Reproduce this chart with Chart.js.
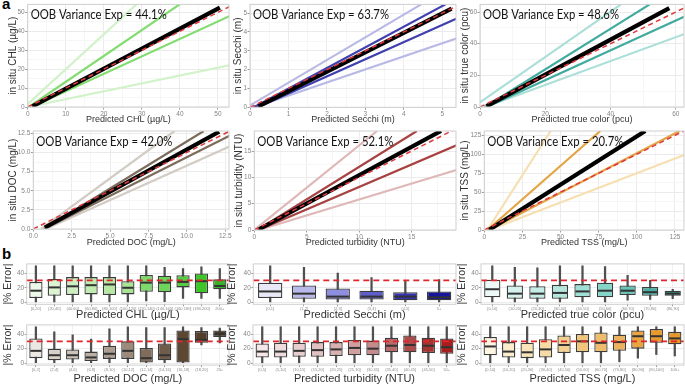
<!DOCTYPE html>
<html>
<head>
<meta charset="utf-8">
<script src="https://cdn.jsdelivr.net/npm/chart.js@4.4.1/dist/chart.umd.min.js"></script>
<style>
  body { margin: 0; width: 685px; height: 384px; position: relative; overflow: hidden; background: #fff; }
  canvas { position: absolute; left: 0; top: 0; }
  .tag { position: absolute; font: bold 15px 'Liberation Sans', Arial, sans-serif; line-height: 15px; color: #000; }
</style>
</head>
<body>
<div class="tag" style="left:2px;top:-4px">a</div>
<div class="tag" style="left:2px;top:246px">b</div>
<script>
// ---- panel a: fitted lines, each [x0, y0, x1, y1] in data units ----
// order of the four coloured fits: pale upper, strong upper, strong lower, pale lower
const chlFits = [[0, 1.5, 29, 55], [0.3, 0, 40.5, 55], [1, 0, 53, 48], [0, 0, 53, 22]];
const chlMain = [1.2, 0.3, 50.5, 52.5];
const secchiFits = [[0, 0.1, 4.45, 5.46], [0.1, 0, 5.08, 5.46], [0.2, 0, 5.36, 4.7], [0.1, 0, 5.36, 3.65]];
const secchiMain = [0.22, 0.05, 5.24, 5.24];
const colorFits = [[0, 3, 43.2, 64.8], [1.5, 0, 52, 64.8], [2, 0, 62.5, 57], [1.5, 0, 62.5, 46]];
const colorMain = [2, 0.5, 58, 62.5];
const docFits = [[0.5, 0, 9.2, 12.8], [0.7, 0, 11.1, 12.8], [0.8, 0.1, 12.8, 12.2], [0.8, 0, 12.8, 10.8]];
const docMain = [0.75, 0.2, 12.1, 12.7];
const turbFits = [[0, 0, 11.7, 18.8], [0.3, 0, 15.5, 18.8], [0.4, 0, 19.3, 16.1], [0.4, 0, 19.3, 11.4]];
const turbMain = [0.4, 0.1, 17.8, 18.8];
const tssFits = [[2, 0, 43.5, 130.7], [2, 0, 76, 130.7], [3, 0, 128, 130.7], [3, 0, 131, 99]];
const tssMain = [3, 0, 105.5, 130.7];
const oobValues = ["44.1%", "63.7%", "48.6%", "42.0%", "52.1%", "20.7%"];

// ---- panel b: |% error| boxes, each [lower whisker, q1, median, q3, upper whisker] ----
const chlBins = ["[0,20]", "(20,40]", "(40,60]", "(60,80]", "(80,100]", "(100,120]", "(120,140]", "(140,160]", "(160,180]", "(180,200]", "200+"];
const chlBox = [[0, 6, 16, 28, 50], [0, 9, 20.5, 32, 50], [0, 10, 22, 34.5, 50], [0, 11, 23.5, 34.5, 50], [0, 10, 24.5, 34.5, 50], [0, 11, 20, 29, 50],
  [2, 14.5, 27, 37.5, 50], [1, 14, 27, 36.5, 48], [5.5, 20.5, 28, 37, 46], [5.5, 12.5, 29, 39.5, 48.5], [5.5, 18, 22.5, 31.5, 46]];
const secchiBins = ["[0,1]", "(1,2]", "(2,3]", "(3,4]", "(4,5]", "5+"];
const secchiBox = [[0, 6, 15, 27, 50], [0, 5, 12, 23, 48], [0, 4, 8, 19, 40], [0, 4, 8, 16, 34], [0, 3, 8, 14, 30], [0, 3, 7, 15, 31]];
const colorBins = ["[0,10]", "(10,20]", "(20,30]", "(30,40]", "(40,50]", "(50,60]", "(60,70]", "(70,80]", "(80,90]"];
const colorBox = [[0, 7, 18, 31, 50], [0, 5, 12, 23, 48], [0, 5, 12, 22, 47], [0, 5, 13, 24, 50], [0, 7, 15, 25, 50], [0, 7, 16, 27, 49],
  [3, 10, 16, 23, 37], [4, 9, 14, 21, 30], [5, 9, 12, 16, 18]];
const docBins = ["[0,2]", "(2,4]", "(4,6]", "(6,8]", "(8,10]", "(10,12]", "(12,14]", "(14,16]", "(16,18]", "(18,20]", "20+"];
const docBox = [[0, 7, 17, 34, 50], [0, 4, 11, 20, 43], [0, 5, 11, 19, 39], [0, 3, 8, 16, 33], [0, 6, 13, 24, 47], [0, 6, 17, 30, 50],
  [0, 1, 7, 21, 49], [0, 4, 11, 27, 49], [0, 1, 33, 45, 50], [25, 28, 32, 44, 49], [28, 36, 40, 45, 48]];
const turbBins = ["[0,5]", "(5,10]", "(10,15]", "(15,20]", "(20,25]", "(25,30]", "(30,35]", "(35,40]", "(40,45]", "(45,50]", "50+"];
const turbBox = [[0, 8, 16, 27, 50], [0, 8, 16, 28, 50], [0, 9, 17, 28, 50], [0, 9, 18, 29, 50], [0, 10, 19, 29, 50], [0, 11, 21, 32, 50],
  [0, 11, 20, 31, 50], [0, 15, 24, 35, 50], [0, 15, 25, 38, 50], [0, 14, 24, 35, 50], [0, 13, 22, 34, 50]];
const tssBins = ["[0,10]", "(10,20]", "(20,30]", "(30,40]", "(40,50]", "(50,60]", "(60,70]", "(70,80]", "(80,90]", "(90,100]", "100+"];
const tssBox = [[0, 11, 23, 36, 50], [0, 8, 16, 29, 50], [0, 7, 15, 28, 50], [0, 8, 19, 33, 50], [0, 14, 25, 38, 50], [0, 15, 30, 40, 50],
  [0, 15, 28, 42, 50], [2, 17, 29, 39, 50], [7, 20, 37, 45, 50], [12, 28, 37, 47, 50], [10, 26, 34, 43, 50]];
const errorLimit = 30;

// ---- colours ----
const chlLineCol = ['#d2f2ca', '#83dc70', '#83dc70', '#d2f2ca'];
const secchiLineCol = ['#b9b9e6', '#3f3fae', '#3f3fae', '#b9b9e6'];
const colorLineCol = ['#acdfd8', '#41ab9d', '#41ab9d', '#acdfd8'];
const docLineCol = ['#d2ccc5', '#7c6c5c', '#7c6c5c', '#d2ccc5'];
const turbLineCol = ['#dfb8b8', '#a84242', '#a84242', '#dfb8b8'];
const tssLineCol = ['#f6e0b3', '#e3a547', '#e3a547', '#f6e0b3'];

const chlFill = ['#ecf9e8', '#dcf4d2', '#cdeec0', '#c2ebb2', '#b6e8a4', '#a9e496', '#7fd86c', '#6ed35b', '#55cc42', '#3fc52c', '#36b52a'];
const secchiFill = ['#e8e8f8', '#b9b9ec', '#8e8ee0', '#5f5fcc', '#3434b4', '#14149c'];
const colorFill = ['#ecf9f7', '#d6f2ee', '#c6ece6', '#b4e6de', '#a0dfd5', '#86d5c9', '#66c4b6', '#49ae9f', '#2f8f82'];
const docFill = ['#ebe8e4', '#d8d1ca', '#cbc2b9', '#bbb0a5', '#ab9e90', '#9c8b7b', '#7f6c5a', '#6f5c4a', '#5c4832', '#533f2b', '#4b3925'];
const turbFill = ['#f6e8e8', '#efdcdc', '#e8cece', '#e0c0c0', '#d9b1b1', '#d09f9f', '#c58b8b', '#b86a6a', '#ad4a4a', '#a73232', '#a81e1e'];
const tssFill = ['#fdf5e2', '#fbedcb', '#f9e5b8', '#f6dba4', '#f3d090', '#f0c57c', '#edbc6c', '#ecb35e', '#eaa540', '#e99a2c', '#e8982a'];

const FONT = "'Liberation Sans', Arial, sans-serif";
Chart.defaults.font.family = FONT;
Chart.defaults.animation = false;
Chart.defaults.events = [];
Chart.defaults.plugins.legend.display = false;
Chart.defaults.plugins.tooltip.enabled = false;

function isMajor(v, step) {
  const r = v / step;
  return Math.abs(r - Math.round(r)) < 1e-6;
}

function newCtx() {
  const c = document.createElement('canvas');
  c.width = 685;
  c.height = 384;
  document.body.appendChild(c);
  return c.getContext('2d');
}

// light panel border
const framePlugin = {
  id: 'frame',
  afterDraw(chart) {
    const { ctx, chartArea: a } = chart;
    ctx.save();
    ctx.strokeStyle = '#cfcfcf';
    ctx.lineWidth = 1;
    ctx.strokeRect(a.left, a.top, a.right - a.left, a.bottom - a.top);
    ctx.restore();
  }
};

function fitPanel(p) {
  const titleSize = 9, lh = titleSize * 1.2;
  const ySize = 10, ylh = ySize * 1.2;
  const pts = f => [{ x: f[0], y: f[1] }, { x: f[2], y: f[3] }];
  const m = Math.max(p.xMax, p.yMax) * 1.1;
  const datasets = [
    { data: [{ x: 0, y: 0 }, { x: m, y: m }], borderColor: '#e0383c', borderWidth: 1.5, borderDash: [5, 3.5], order: 0 },
    { data: pts(p.main), borderColor: '#000', borderWidth: 4.2, order: 1 }
  ];
  p.fits.forEach((f, i) => {
    datasets.push({ data: pts(f), borderColor: p.colors[i], borderWidth: 2.2, order: (i === 1 || i === 2) ? 2 : 3 });
  });
  datasets.forEach(d => { d.showLine = true; d.pointRadius = 0; });

  const axisCommon = (major, dec) => ({
    type: 'linear',
    min: 0,
    border: { display: false },
    ticks: {
      stepSize: major / 2, includeBounds: false, autoSkip: false, maxRotation: 0,
      color: '#858585', font: { size: 6.5 }, padding: 0.5,
      callback: v => isMajor(v, major) ? v.toFixed(dec) : ''
    },
    grid: {
      color: c => isMajor(c.tick.value, major) ? '#ebebeb' : '#f6f6f6',
      tickColor: c => isMajor(c.tick.value, major) ? '#9a9a9a' : 'rgba(0,0,0,0)',
      tickLength: 2.5
    }
  });
  const xs = axisCommon(p.xMajor, p.dec);
  xs.max = p.xMax;
  xs.title = { display: true, text: p.xTitle, color: '#333', font: { size: titleSize }, padding: 0 };
  const xh = p.titleY + lh / 2 - p.bottom;
  xs.afterFit = s => { s.height = xh; };
  const ys = axisCommon(p.yMajor, p.dec);
  ys.max = p.yMax;
  ys.title = { display: true, text: p.yTitle, color: '#333', font: { size: ySize }, padding: { top: p.yTitleX - ylh / 2, bottom: 0 } };
  ys.afterFit = s => { s.width = p.left; };

  const oobPlugin = {
    id: 'oob',
    afterDatasetsDraw(chart) {
      const { ctx, chartArea: a } = chart;
      ctx.save();
      ctx.font = "13px Lato, 'Open Sans', sans-serif";
      ctx.fillStyle = '#111';
      ctx.textBaseline = 'alphabetic';
      ctx.fillText('OOB Variance Exp = ' + p.oob, a.left + 3, a.top + 15, 136);
      ctx.restore();
    }
  };

  new Chart(newCtx(), {
    type: 'scatter',
    data: { datasets },
    options: {
      responsive: false,
      layout: { padding: { left: 0, top: p.top, right: 685 - p.right, bottom: 384 - p.bottom - xh } },
      scales: { x: xs, y: ys }
    },
    plugins: [framePlugin, oobPlugin]
  });
}

function boxPanel(p) {
  const titleSize = 11, lh = titleSize * 1.2;
  const ySize = 10.5;
  const xh = p.titleY + lh / 2 - p.bottom;
  const boxPlugin = {
    id: 'boxMarks',
    afterDatasetsDraw(chart) {
      const { ctx, chartArea: a } = chart;
      const yS = chart.scales.y;
      const meta = chart.getDatasetMeta(1);
      ctx.save();
      ctx.strokeStyle = '#333';
      ctx.lineWidth = 2;
      meta.data.forEach((bar, i) => {
        const y = yS.getPixelForValue(p.box[i][2]);
        ctx.beginPath();
        ctx.moveTo(bar.x - bar.width / 2 + 1, y);
        ctx.lineTo(bar.x + bar.width / 2 - 1, y);
        ctx.stroke();
      });
      const yl = yS.getPixelForValue(errorLimit);
      ctx.strokeStyle = '#e0262b';
      ctx.lineWidth = 1.8;
      ctx.setLineDash([6, 4]);
      ctx.beginPath();
      ctx.moveTo(a.left, yl);
      ctx.lineTo(a.right, yl);
      ctx.stroke();
      ctx.restore();
    }
  };
  new Chart(newCtx(), {
    type: 'bar',
    data: {
      labels: p.bins,
      datasets: [
        { data: p.box.map(b => [b[0], b[4]]), backgroundColor: '#505050', barThickness: 1.6, grouped: false, order: 2 },
        { data: p.box.map(b => [b[1], b[3]]), backgroundColor: p.fill, borderColor: '#3c3c3c', borderWidth: 1.3,
          borderSkipped: false, barPercentage: 0.72, categoryPercentage: 1, grouped: false, order: 1 }
      ]
    },
    options: {
      responsive: false,
      layout: { padding: { left: 0, top: p.top, right: 685 - p.right, bottom: 384 - p.bottom - xh } },
      scales: {
        x: {
          border: { display: false },
          grid: { offset: false, color: '#f1f1f1', tickColor: '#9a9a9a', tickLength: 2 },
          ticks: { autoSkip: false, maxRotation: 0, minRotation: 0, color: '#8a8a8a', font: { size: 4 }, padding: 0.5 },
          title: { display: true, text: p.xTitle, color: '#333', font: { size: titleSize }, padding: 0 },
          afterFit: s => { s.height = xh; }
        },
        y: {
          min: -2.5, max: 52.5,
          border: { display: false },
          grid: { color: '#ebebeb', tickColor: '#9a9a9a', tickLength: 2 },
          ticks: { stepSize: 10, includeBounds: false, color: '#858585', font: { size: 6.5 }, padding: 0.5 },
          title: { display: true, text: '|% Error|', color: '#333', font: { size: ySize }, padding: { top: p.yTitleX - ySize * 0.6, bottom: 0 } },
          afterFit: s => { s.width = p.left; }
        }
      }
    },
    plugins: [framePlugin, boxPlugin]
  });
}

// ---- panel a ----
fitPanel({ left: 27.7, right: 229, top: 4, bottom: 107, titleY: 120, yTitleX: 13.5, xMax: 52.9, yMax: 54.2, xMajor: 10, yMajor: 10, dec: 0,
  fits: chlFits, main: chlMain, colors: chlLineCol, oob: oobValues[0], xTitle: 'Predicted CHL (µg/L)', yTitle: 'in situ CHL (µg/L)' });
fitPanel({ left: 250, right: 456, top: 4, bottom: 107.3, titleY: 120, yTitleX: 238.5, xMax: 5.355, yMax: 5.46, xMajor: 1, yMajor: 1, dec: 0,
  fits: secchiFits, main: secchiMain, colors: secchiLineCol, oob: oobValues[1], xTitle: 'Predicted Secchi (m)', yTitle: 'in situ Secchi (m)' });
fitPanel({ left: 480, right: 684, top: 4, bottom: 107, titleY: 120, yTitleX: 465.5, xMax: 62.5, yMax: 64.8, xMajor: 20, yMajor: 20, dec: 0,
  fits: colorFits, main: colorMain, colors: colorLineCol, oob: oobValues[2], xTitle: 'Predicted true color (pcu)', yTitle: 'in situ true color (pcu)' });
fitPanel({ left: 33.3, right: 229, top: 131, bottom: 229, titleY: 243, yTitleX: 13.5, xMax: 12.74, yMax: 12.8, xMajor: 2.5, yMajor: 2.5, dec: 1,
  fits: docFits, main: docMain, colors: docLineCol, oob: oobValues[3], xTitle: 'Predicted DOC (mg/L)', yTitle: 'in situ DOC (mg/L)' });
fitPanel({ left: 254.3, right: 456, top: 131, bottom: 230, titleY: 243, yTitleX: 239, xMax: 19.23, yMax: 18.8, xMajor: 5, yMajor: 5, dec: 0,
  fits: turbFits, main: turbMain, colors: turbLineCol, oob: oobValues[4], xTitle: 'Predicted turbidity (NTU)', yTitle: 'in situ turbidity (NTU)' });
fitPanel({ left: 484.3, right: 684, top: 131, bottom: 230, titleY: 243, yTitleX: 465.5, xMax: 130.9, yMax: 130.7, xMajor: 25, yMajor: 25, dec: 0,
  fits: tssFits, main: tssMain, colors: tssLineCol, oob: oobValues[5], xTitle: 'Predicted TSS (mg/L)', yTitle: 'in situ TSS (mg/L)' });

// ---- panel b ----
boxPanel({ left: 26.7, right: 229, top: 263.9, bottom: 304.3, titleY: 314.5, yTitleX: 8.5, bins: chlBins, box: chlBox, fill: chlFill, xTitle: 'Predicted CHL (µg/L)' });
boxPanel({ left: 253.3, right: 456, top: 263.9, bottom: 304.3, titleY: 314.5, yTitleX: 232, bins: secchiBins, box: secchiBox, fill: secchiFill, xTitle: 'Predicted Secchi (m)' });
boxPanel({ left: 481, right: 684, top: 263.9, bottom: 304.3, titleY: 314.5, yTitleX: 462, bins: colorBins, box: colorBox, fill: colorFill, xTitle: 'Predicted true color (pcu)' });
boxPanel({ left: 26.7, right: 229, top: 324.9, bottom: 365.1, titleY: 379, yTitleX: 8.5, bins: docBins, box: docBox, fill: docFill, xTitle: 'Predicted DOC (mg/L)' });
boxPanel({ left: 253, right: 456, top: 324.9, bottom: 365.1, titleY: 379, yTitleX: 232, bins: turbBins, box: turbBox, fill: turbFill, xTitle: 'Predicted turbidity (NTU)' });
boxPanel({ left: 481, right: 684, top: 324.9, bottom: 365.1, titleY: 379, yTitleX: 462, bins: tssBins, box: tssBox, fill: tssFill, xTitle: 'Predicted TSS (mg/L)' });
</script>
</body>
</html>
